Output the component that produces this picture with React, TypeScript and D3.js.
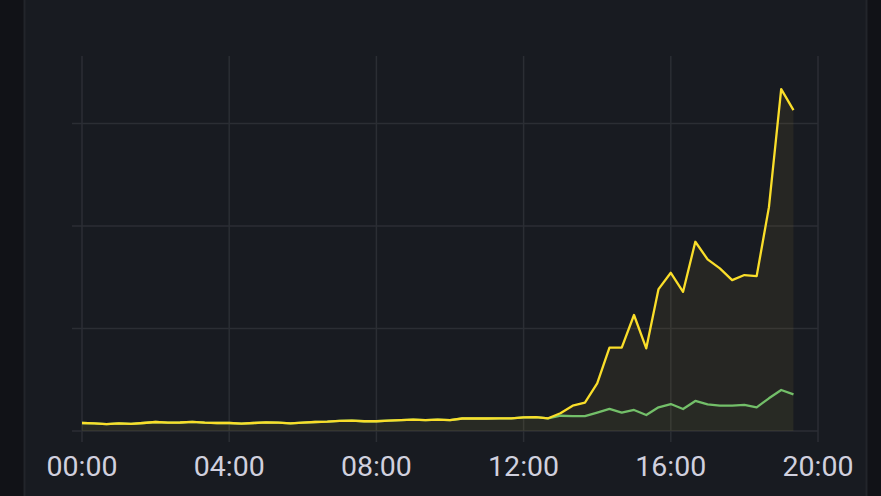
import React from "react";
import * as d3 from "d3";

const W = 881;
const H = 496;

// 20-minute samples from 00:00 to 19:20
const stepMinutes = 20;
const yellowSeries = [
  7.8, 7.5, 6.8, 7.5, 7.0, 7.8, 8.8, 8.1, 8.3, 9.0,
  8.1, 7.8, 7.8, 7.1, 7.8, 8.5, 8.1, 7.5, 8.1, 8.8,
  9.1, 9.8, 10.2, 9.5, 9.5, 10.2, 10.7, 11.2, 10.7, 11.2,
  10.7, 12.2, 12.2, 12.2, 12.4, 12.4, 13.2, 13.6, 12.4, 17.3,
  24.7, 27.6, 46.5, 81.3, 81.3, 113.2, 80.7, 138.5, 154.4, 135.9,
  184.7, 167.5, 158.7, 147.3, 152.2, 151.2, 218.5, 333.7, 313.2,
];
const greenSeries = [
  7.8, 7.5, 6.8, 7.5, 7.0, 7.8, 8.8, 8.1, 8.3, 9.0,
  8.1, 7.8, 7.8, 7.1, 7.8, 8.5, 8.1, 7.5, 8.1, 8.8,
  9.1, 9.8, 10.2, 9.5, 9.5, 10.2, 10.7, 11.2, 10.7, 11.2,
  10.7, 12.2, 12.2, 12.2, 12.4, 12.4, 13.2, 13.6, 12.4, 14.9,
  14.6, 14.6, 18.0, 21.5, 17.9, 20.5, 15.6, 23.1, 26.3, 21.5,
  29.3, 26.0, 24.7, 24.7, 25.4, 23.1, 31.9, 40.0, 35.8,
];
const xTickHours = [0, 4, 8, 12, 16, 20];
const xTickLabels = ["00:00", "04:00", "08:00", "12:00", "16:00", "20:00"];
const yTicks = [0, 100, 200, 300];

const yellow = "#FADE2A";
const green = "#73BF69";

export default function App() {
  const left = 82;
  const right = 818;
  const top = 56;
  const bottom = 431;

  const x = d3.scaleLinear().domain([0, 20 * 60]).range([left, right]);
  const y = d3.scaleLinear().domain([0, 366]).range([bottom, top]);

  const pts = (s: number[]) => s.map((v, i) => [i * stepMinutes, v] as [number, number]);

  const line = d3
    .line<[number, number]>()
    .x((d) => x(d[0]))
    .y((d) => y(d[1]));
  const area = d3
    .area<[number, number]>()
    .x((d) => x(d[0]))
    .y0(y(0))
    .y1((d) => y(d[1]));

  const gridColor = "#2b2e34";

  return (
    <div style={{ position: "fixed", left: 0, top: 0, width: W, height: H }}>
      <svg width={W} height={H} style={{ display: "block" }}>
        <rect x={0} y={0} width={W} height={H} fill="#111217" />
        <rect x={24.5} y={-10} width={842} height={H + 20} fill="#181b21" stroke="#22252b" strokeWidth={2} />
        {yTicks.map((t) => (
          <line key={"h" + t} x1={left - 10} x2={right} y1={y(t)} y2={y(t)} stroke={gridColor} strokeWidth={1.5} />
        ))}
        {xTickHours.map((h) => (
          <line key={"v" + h} x1={x(h * 60)} x2={x(h * 60)} y1={top} y2={bottom + 11} stroke={gridColor} strokeWidth={1.5} />
        ))}
        <path d={area(pts(yellowSeries)) || ""} fill="#b89a3a" fillOpacity={0.09} />
        <path d={area(pts(greenSeries)) || ""} fill={green} fillOpacity={0.03} />
        <path d={line(pts(greenSeries)) || ""} fill="none" stroke={green} strokeWidth={2.3} strokeLinejoin="round" />
        <path d={line(pts(yellowSeries)) || ""} fill="none" stroke={yellow} strokeWidth={2.3} strokeLinejoin="round" />
        {xTickHours.map((h, i) => (
          <text
            key={"t" + h}
            x={x(h * 60)}
            y={476}
            textAnchor="middle"
            fontFamily="Roboto, Inter, sans-serif"
            fontSize={28.5}
            fill="#d0d0de"
          >
            {xTickLabels[i]}
          </text>
        ))}
      </svg>
    </div>
  );
}
